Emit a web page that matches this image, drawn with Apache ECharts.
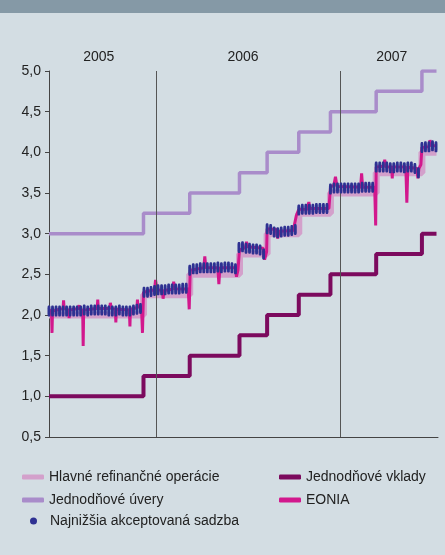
<!DOCTYPE html>
<html>
<head>
<meta charset="utf-8">
<script src="https://cdn.jsdelivr.net/npm/echarts@6/dist/echarts.min.js"></script>
<style>
  html, body { margin: 0; padding: 0; background: #d3dde3; }
  #chart { width: 445px; height: 555px; }
</style>
</head>
<body>
<div id="chart"></div>
<script>
// kľúčové sadzby ECB (platné od dátumu)
var rateDates   = ['2005-06-01','2005-12-06','2006-03-08','2006-06-15','2006-08-09','2006-10-11','2006-12-13','2007-03-14','2007-06-13','2007-07-12'];
var mroRate     = [2.00, 2.25, 2.50, 2.75, 3.00, 3.25, 3.50, 3.75, 4.00, 4.00];
var lendingRate = [3.00, 3.25, 3.50, 3.75, 4.00, 4.25, 4.50, 4.75, 5.00, 5.00];
var depositRate = [1.00, 1.25, 1.50, 1.75, 2.00, 2.25, 2.50, 2.75, 3.00, 3.00];

// najnižšia akceptovaná sadzba - týždenné tendre od 1.6.2005
var tenderStart = '2005-06-01';
var tenderRate = [
  2.05,2.05,2.05,2.05,2.05,2.05,2.05,2.05,2.05,2.05,2.06,2.05,2.06,2.06,2.06,2.06,2.06,2.05,2.05,2.05,2.06,2.05,2.05,2.05,2.06,2.07,2.08,
  2.28,2.28,2.29,2.30,2.31,2.31,2.31,2.32,2.32,2.32,2.32,2.33,2.33,
  2.55,2.57,2.57,2.58,2.58,2.58,2.58,2.58,2.59,2.58,2.59,2.59,2.58,2.57,
  2.83,2.84,2.82,2.82,2.81,2.81,2.80,2.75,
  3.06,3.05,3.02,3.01,3.02,3.03,3.03,3.04,3.05,
  3.29,3.30,3.30,3.30,3.30,3.31,3.31,3.31,3.31,
  3.55,3.56,3.56,3.56,3.56,3.56,3.56,3.56,3.56,3.57,3.57,3.57,3.57,
  3.82,3.82,3.82,3.82,3.81,3.81,3.82,3.82,3.81,3.82,3.82,3.80,3.75,
  4.06,4.07,4.07,4.08,4.07
];

// EONIA
var eonia = [
  ['2005-06-01',2.06],['2005-06-06',2.05],['2005-06-07',1.78],['2005-06-08',2.05],
  ['2005-06-29',2.08],['2005-06-30',2.18],['2005-07-01',2.08],
  ['2005-07-10',2.06],['2005-07-11',1.96],['2005-07-12',2.06],
  ['2005-07-29',2.08],['2005-07-31',2.12],['2005-08-02',2.07],
  ['2005-08-07',2.06],['2005-08-08',1.62],['2005-08-09',2.06],
  ['2005-09-05',2.08],['2005-09-06',2.19],['2005-09-07',2.08],
  ['2005-09-30',2.08],['2005-10-01',2.15],['2005-10-03',2.08],
  ['2005-10-11',2.07],['2005-10-12',1.91],['2005-10-13',2.07],
  ['2005-11-08',2.06],['2005-11-09',1.86],['2005-11-10',2.07],
  ['2005-11-23',2.09],['2005-11-24',2.19],['2005-11-25',2.10],
  ['2005-12-02',2.09],['2005-12-04',1.78],['2005-12-06',2.28],
  ['2005-12-28',2.31],['2005-12-30',2.43],['2006-01-02',2.31],
  ['2006-01-13',2.30],['2006-01-14',2.20],['2006-01-16',2.30],
  ['2006-02-03',2.32],['2006-02-04',2.41],['2006-02-06',2.32],
  ['2006-03-05',2.32],['2006-03-07',2.07],['2006-03-09',2.55],
  ['2006-04-05',2.58],['2006-04-07',2.72],['2006-04-09',2.58],
  ['2006-05-03',2.58],['2006-05-05',2.38],['2006-05-07',2.58],
  ['2006-06-07',2.58],['2006-06-09',2.47],['2006-06-12',2.55],['2006-06-15',2.80],
  ['2006-06-27',2.83],['2006-06-29',2.90],['2006-07-01',2.84],
  ['2006-08-01',2.82],['2006-08-04',2.68],['2006-08-08',2.78],['2006-08-09',3.06],
  ['2006-08-27',3.05],['2006-08-30',2.94],['2006-09-02',3.03],
  ['2006-09-30',3.04],['2006-10-03',3.06],['2006-10-06',3.22],['2006-10-11',3.30],
  ['2006-10-28',3.30],['2006-10-31',3.39],['2006-11-02',3.31],
  ['2006-12-10',3.31],['2006-12-13',3.57],
  ['2006-12-20',3.60],['2006-12-23',3.70],['2006-12-26',3.58],
  ['2007-02-11',3.57],['2007-02-13',3.74],['2007-02-15',3.57],
  ['2007-03-11',3.57],['2007-03-13',3.10],['2007-03-14',3.82],
  ['2007-03-29',3.83],['2007-03-31',3.91],['2007-04-02',3.82],
  ['2007-04-14',3.82],['2007-04-15',3.68],['2007-04-16',3.82],
  ['2007-05-12',3.82],['2007-05-14',3.38],['2007-05-16',3.82],
  ['2007-06-03',3.80],['2007-06-05',3.68],['2007-06-07',3.80],
  ['2007-06-11',3.85],['2007-06-13',4.06],
  ['2007-06-27',4.07],['2007-06-29',4.15],['2007-07-02',4.08],['2007-07-11',4.08]
];

var yearLabels  = ['2005', '2006', '2007'];
var yearLabelAt = ['2005-09-08', '2006-06-22', '2007-04-14'];
var yearBreaks  = ['2006-01-01', '2007-01-01'];
var axisStart = '2005-06-01';
var axisEnd   = '2007-07-15';

function d(s) {
  var p = s.split('-');
  return new Date(+p[0], p[1] - 1, +p[2]).getTime();
}
function zip(dates, vals) {
  return dates.map(function (s, i) { return [d(s), vals[i]]; });
}

var tenderData = [];
(function () {
  var p = tenderStart.split('-');
  for (var k = 0; k < tenderRate.length; k++) {
    tenderData.push([new Date(+p[0], p[1] - 1, +p[2] + 7 * k).getTime(), tenderRate[k]]);
  }
})();

var labelTs = yearLabelAt.map(d);
var font = "'Liberation Sans', Arial, sans-serif";
var legendText = { fontSize: 14, color: '#222', fontFamily: font };

var myChart = echarts.init(document.getElementById('chart'));
myChart.setOption({
  animation: false,
  backgroundColor: '#d3dde3',
  textStyle: { fontFamily: font },
  graphic: [{
    type: 'rect', left: 0, top: 0, silent: true,
    shape: { width: 445, height: 13 },
    style: { fill: '#8599a6' }
  }],
  grid: { left: 49, right: 7, top: 71, bottom: 118 },
  legend: [{
    left: 22, top: 470, orient: 'vertical', padding: 0,
    itemGap: 9, itemWidth: 22, itemHeight: 5,
    textStyle: legendText,
    data: [
      { name: 'Hlavné refinančné operácie', icon: 'roundRect' },
      { name: 'Jednodňové úvery', icon: 'roundRect' }
    ]
  }, {
    left: 279, top: 470, orient: 'vertical', padding: 0,
    itemGap: 9, itemWidth: 22, itemHeight: 5,
    textStyle: legendText,
    data: [
      { name: 'Jednodňové vklady', icon: 'roundRect' },
      { name: 'EONIA', icon: 'roundRect' }
    ]
  }, {
    left: 30, top: 514, orient: 'vertical', padding: 0,
    itemWidth: 7, itemHeight: 7,
    textStyle: echarts.util.extend({ padding: [0, 0, 0, 8] }, legendText),
    data: [{ name: 'Najnižšia akceptovaná sadzba', icon: 'circle' }]
  }],
  xAxis: [{
    type: 'time', min: d(axisStart), max: d(axisEnd),
    axisLine: { lineStyle: { color: '#444', width: 1 } },
    axisTick: { show: false },
    axisLabel: { show: false },
    splitLine: { show: false }
  }, {
    // horný rad s rokmi
    type: 'value', position: 'top', min: d(axisStart), max: d(axisEnd),
    axisLine: { show: false },
    axisTick: { show: false },
    splitLine: { show: false },
    axisLabel: {
      customValues: labelTs,
      fontSize: 14, color: '#222', margin: 7,
      formatter: function (v) {
        var i = labelTs.indexOf(v);
        return i >= 0 ? yearLabels[i] : '';
      }
    }
  }],
  yAxis: {
    type: 'value', min: 0.5, max: 5, interval: 0.5,
    axisLine: { show: true, lineStyle: { color: '#444', width: 1 } },
    axisTick: { show: true, length: 4, lineStyle: { color: '#444' } },
    axisLabel: {
      fontSize: 14, color: '#222', margin: 8,
      formatter: function (v) { return v.toFixed(1).replace('.', ','); }
    },
    splitLine: { show: false }
  },
  series: [{
    name: 'Jednodňové úvery', type: 'line', step: 'end',
    symbol: 'none', color: '#a98cca', z: 2,
    lineStyle: { width: 3.5, color: '#a98cca' },
    data: zip(rateDates, lendingRate)
  }, {
    name: 'Jednodňové vklady', type: 'line', step: 'end',
    symbol: 'none', color: '#7c0a5e', z: 2,
    lineStyle: { width: 4, color: '#7c0a5e' },
    data: zip(rateDates, depositRate)
  }, {
    name: 'Hlavné refinančné operácie', type: 'line', step: 'end',
    symbol: 'none', color: '#d3a0cb', z: 2,
    lineStyle: { width: 7, color: '#d3a0cb' },
    data: zip(rateDates, mroRate)
  }, {
    name: 'EONIA', type: 'line',
    symbol: 'none', color: '#d2188d', z: 3,
    lineStyle: { width: 3, color: '#d2188d' },
    data: eonia.map(function (e) { return [d(e[0]), e[1]]; })
  }, {
    name: 'Najnižšia akceptovaná sadzba', type: 'scatter', z: 5,
    symbol: 'roundRect', symbolSize: [3, 11],
    color: '#2e3192',
    itemStyle: { color: '#2e3192', opacity: 1 },
    data: tenderData,
    markLine: {
      silent: true, symbol: 'none',
      label: { show: false },
      lineStyle: { color: '#555', width: 1, type: 'solid' },
      data: yearBreaks.map(function (s) { return { xAxis: d(s) }; })
    }
  }]
});
</script>
</body>
</html>
